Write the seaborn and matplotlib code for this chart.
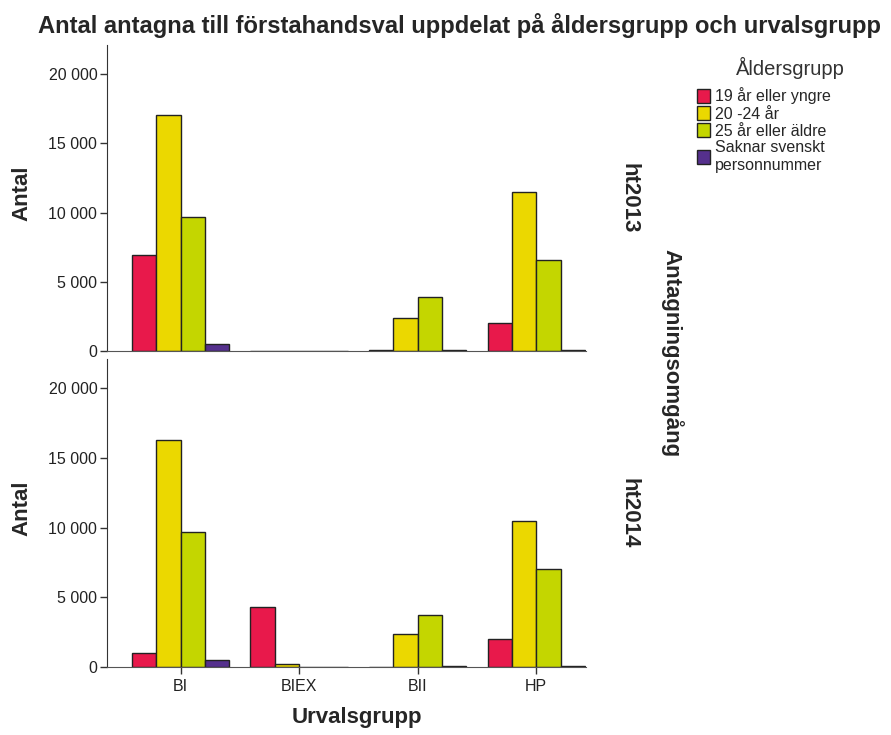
import matplotlib
matplotlib.use("Agg")
import matplotlib.pyplot as plt
from matplotlib.ticker import FuncFormatter
import pandas as pd
import seaborn as sns

urvalsgrupp = ["BI", "BIEX", "BII", "HP"]
aldersgrupp = ["19 år eller yngre", "20 -24 år", "25 år eller äldre",
               "Saknar svenskt\npersonnummer"]
omgangar = ["ht2013", "ht2014"]

# antal per åldersgrupp, i urvalsgrupp-ordning
ht2013 = {
    "19 år eller yngre": [6950, 0, 40, 2050],
    "20 -24 år": [17050, 0, 2400, 11450],
    "25 år eller äldre": [9700, 0, 3900, 6550],
    "Saknar svenskt\npersonnummer": [500, 0, 40, 40],
}
ht2014 = {
    "19 år eller yngre": [1000, 4300, 30, 2000],
    "20 -24 år": [16300, 250, 2400, 10500],
    "25 år eller äldre": [9700, 15, 3750, 7000],
    "Saknar svenskt\npersonnummer": [500, 10, 40, 40],
}

colors = ["#E8194B", "#EBD800", "#C4D600", "#55308D"]


def to_long(omgang, values):
    rows = []
    for grupp in aldersgrupp:
        for urval, v in zip(urvalsgrupp, values[grupp]):
            rows.append({"Antagningsomgång": omgang, "Urvalsgrupp": urval,
                         "Åldersgrupp": grupp, "Antal": v})
    return rows


df = pd.DataFrame(to_long("ht2013", ht2013) + to_long("ht2014", ht2014))

sns.set_style("ticks")
plt.rcParams["font.family"] = ["Liberation Sans", "DejaVu Sans"]

fig = plt.figure(figsize=(8.91, 7.35), dpi=100)
left, width = 107 / 891, (586 - 107) / 891
ax_top = fig.add_axes([left, 1 - 351 / 735, width, (351 - 45) / 735])
ax_bot = fig.add_axes([left, 1 - 667 / 735, width, (667 - 359) / 735])

fmt = FuncFormatter(lambda v, _: f"{v:,.0f}".replace(",", " "))

for ax, omgang in zip([ax_top, ax_bot], omgangar):
    sns.barplot(data=df[df["Antagningsomgång"] == omgang], x="Urvalsgrupp",
                y="Antal", hue="Åldersgrupp", order=urvalsgrupp,
                hue_order=aldersgrupp, palette=colors, saturation=1,
                width=0.82, edgecolor="#222222", linewidth=1, ax=ax,
                legend=(ax is ax_top))
    ax.set_ylim(0, 22100)
    ax.set_xlim(-0.62, 3.42)
    ax.set_yticks([0, 5000, 10000, 15000, 20000])
    ax.yaxis.set_major_formatter(fmt)
    ax.tick_params(axis="y", labelsize=11.5, length=5, width=1,
                   color="#333333", labelcolor="#222222", pad=2)
    ax.tick_params(axis="x", labelsize=11.5, length=5, width=1,
                   color="#333333", labelcolor="#222222")
    for s in ["top", "right"]:
        ax.spines[s].set_visible(False)
    ax.spines["left"].set_color("#333333")
    ax.spines["bottom"].set_color("#555555")
    ax.set_ylabel("")
    ax.set_xlabel("")
    ax.text(1.09, 0.5, omgang, transform=ax.transAxes, rotation=-90,
            ha="center", va="center", fontsize=16, fontweight="bold")

# y-etiketter "Antal" till vänster om varje panel
for ax in [ax_top, ax_bot]:
    bb = ax.get_position()
    fig.text(22 / 891, bb.y0 + bb.height * 0.5 + 0.006, "Antal", rotation=90,
             ha="center", va="center", fontsize=16, fontweight="bold")

ax_top.set_xticks([])
fig.text(357 / 891, 1 - 718 / 735, "Urvalsgrupp", ha="center", va="center",
         fontsize=16, fontweight="bold")

handles, labels = ax_top.get_legend_handles_labels()
ax_top.get_legend().remove()
fig.legend(handles, labels, loc="upper left",
           bbox_to_anchor=(683 / 891, 1 - 73 / 735), frameon=False,
           fontsize=11.5, handlelength=0.8, handleheight=1.0,
           handletextpad=0.3, labelspacing=0.1)
fig.text(790 / 891, 1 - 68 / 735, "Åldersgrupp", ha="center", va="center",
         fontsize=14.5, color="#333333")

fig.text(672 / 891, 1 - 353 / 735, "Antagningsomgång", rotation=-90,
         ha="center", va="center", fontsize=16, fontweight="bold")
fig.text(459 / 891, 1 - 33 / 735,
         "Antal antagna till förstahandsval uppdelat på åldersgrupp och urvalsgrupp",
         ha="center", va="baseline", fontsize=17.1, fontweight="bold")

fig.savefig("out.png", dpi=100)
